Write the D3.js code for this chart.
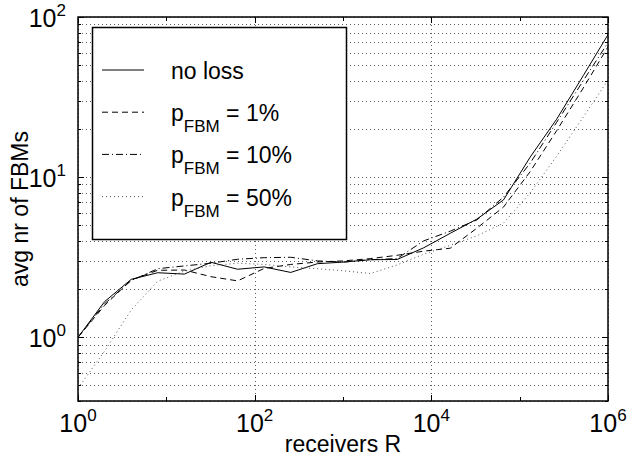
<!DOCTYPE html>
<html>
<head>
<meta charset="utf-8">
<script src="https://cdn.jsdelivr.net/npm/d3@7"></script>
<style>
  body { margin: 0; background: #fff; }
  text { font-family: "Liberation Sans", Arial, sans-serif; fill: #000; }
</style>
</head>
<body>
<svg id="chart" width="628" height="456"></svg>
<script>
// receivers R (powers of two)
const receivers = [1, 2, 4, 8, 16, 32, 64, 128, 256, 512, 1024, 2048, 4096, 8192,
  16384, 32768, 65536, 131072, 262144, 524288, 1048576];

// avg nr of FBMs
const noLoss = [1.0, 1.67, 2.3, 2.53, 2.48, 2.94, 2.66, 2.75, 2.54, 2.88, 2.95,
  3.05, 3.06, 3.62, 4.46, 5.47, 7.2, 13.3, 23, 43, 81];
const loss1 = [1.0, 1.58, 2.28, 2.62, 2.63, 2.39, 2.25, 2.69, 2.85, 2.95, 3.0,
  3.1, 3.25, 3.45, 3.6, 4.8, 6.5, 10.8, 19.5, 36, 68];
const loss10 = [1.0, 1.62, 2.26, 2.68, 2.79, 2.9, 3.07, 3.14, 3.16, 3.0, 2.95,
  3.05, 3.1, 4.0, 4.6, 5.4, 7.5, 12.2, 22, 40, 72];
const loss50 = [0.48, 0.82, 1.48, 2.24, 2.59, 2.8, 2.9, 2.85, 2.75, 2.68, 2.6,
  2.5, 2.83, 3.3, 3.75, 4.3, 5.16, 7.96, 13.5, 23.7, 42];

const legendLabels = ["no loss", "1%", "10%", "50%"];
const xMajor = [1, 1e2, 1e4, 1e6];
const xMinor = [10, 1e3, 1e5];
const yMajor = [1, 10, 100];
const yMinor = [0.4, 0.5, 0.6, 0.7, 0.8, 0.9, 2, 3, 4, 5, 6, 7, 8, 9,
  20, 30, 40, 50, 60, 70, 80, 90];

const width = 628, height = 456;
const margin = { top: 17, right: 20, bottom: 55, left: 78 };
const iw = width - margin.left - margin.right;
const ih = height - margin.top - margin.bottom;

const svg = d3.select("#chart");
const g = svg.append("g").attr("transform", `translate(${margin.left},${margin.top})`);

const x = d3.scaleLog().domain([1, 1e6]).range([0, iw]);
const y = d3.scaleLog().domain([0.4, 100]).range([ih, 0]);

g.append("clipPath").attr("id", "clip")
  .append("rect").attr("width", iw).attr("height", ih);

// dotted grid
const grid = g.append("g")
  .attr("stroke", "#333")
  .attr("stroke-opacity", 0.8)
  .attr("stroke-width", 1)
  .attr("stroke-dasharray", "1,3");
grid.selectAll("line.h").data(yMajor.concat(yMinor)).join("line")
  .attr("class", "h")
  .attr("x1", 0).attr("x2", iw)
  .attr("y1", (d) => Math.round(y(d)) + 0.5)
  .attr("y2", (d) => Math.round(y(d)) + 0.5);
grid.selectAll("line.v").data(xMajor).join("line")
  .attr("class", "v")
  .attr("y1", 0).attr("y2", ih)
  .attr("x1", (d) => Math.round(x(d)) + 0.5)
  .attr("x2", (d) => Math.round(x(d)) + 0.5);

// inward ticks on all four sides
const ticks = g.append("g").attr("stroke", "#000").attr("stroke-width", 1);
const yTicks = yMajor.map((v) => ({ v, len: 6 })).concat(yMinor.map((v) => ({ v, len: 3 })));
ticks.selectAll("line.yl").data(yTicks).join("line")
  .attr("x1", 0).attr("x2", (d) => d.len)
  .attr("y1", (d) => Math.round(y(d.v)) + 0.5).attr("y2", (d) => Math.round(y(d.v)) + 0.5);
ticks.selectAll("line.yr").data(yTicks).join("line")
  .attr("x1", iw).attr("x2", (d) => iw - d.len)
  .attr("y1", (d) => Math.round(y(d.v)) + 0.5).attr("y2", (d) => Math.round(y(d.v)) + 0.5);
const xTicks = xMajor.map((v) => ({ v, len: 6 })).concat(xMinor.map((v) => ({ v, len: 4 })));
ticks.selectAll("line.xb").data(xTicks).join("line")
  .attr("y1", ih).attr("y2", (d) => ih - d.len)
  .attr("x1", (d) => Math.round(x(d.v)) + 0.5).attr("x2", (d) => Math.round(x(d.v)) + 0.5);
ticks.selectAll("line.xt").data(xTicks).join("line")
  .attr("y1", 0).attr("y2", (d) => d.len)
  .attr("x1", (d) => Math.round(x(d.v)) + 0.5).attr("x2", (d) => Math.round(x(d.v)) + 0.5);

// series
const styles = [
  { data: noLoss, dash: null, color: "#000" },
  { data: loss1, dash: "6,4", color: "#000" },
  { data: loss10, dash: "7,3,1,3", color: "#000" },
  { data: loss50, dash: "1,3", color: "#555" },
];
const line = d3.line()
  .x((d) => x(d[0]))
  .y((d) => y(d[1]));
const lines = g.append("g").attr("clip-path", "url(#clip)");
styles.forEach((s) => {
  lines.append("path")
    .datum(receivers.map((r, i) => [r, s.data[i]]))
    .attr("d", line)
    .attr("fill", "none")
    .attr("stroke", s.color)
    .attr("stroke-width", 1)
    .attr("stroke-dasharray", s.dash);
});

// frame
g.append("rect").attr("width", iw).attr("height", ih)
  .attr("fill", "none").attr("stroke", "#000").attr("stroke-width", 1.5);

// tick labels
const exp = (v) => Math.round(Math.log10(v));
const xl = g.append("g").selectAll("text").data(xMajor).join("text")
  .attr("x", (d) => x(d)).attr("y", ih + 31)
  .attr("text-anchor", "middle")
  .style("font-size", "25px");
xl.append("tspan").text("10");
xl.append("tspan").attr("dy", -11).style("font-size", "17px").text(exp);

const yl = g.append("g").selectAll("text").data(yMajor).join("text")
  .attr("x", -12).attr("y", (d) => y(d) + 10)
  .attr("text-anchor", "end")
  .style("font-size", "25px");
yl.append("tspan").text("10");
yl.append("tspan").attr("dy", -11).style("font-size", "17px").text(exp);

// axis titles
svg.append("text")
  .attr("x", margin.left + iw / 2).attr("y", 452)
  .attr("text-anchor", "middle").style("font-size", "23px")
  .text("receivers R");
svg.append("text")
  .attr("transform", `translate(28,${margin.top + ih / 2}) rotate(-90)`)
  .attr("text-anchor", "middle").style("font-size", "23px")
  .text("avg nr of FBMs");

// legend
const lg = svg.append("g");
lg.append("rect").attr("x", 92.5).attr("y", 27.5).attr("width", 254).attr("height", 212)
  .attr("fill", "#fff").attr("stroke", "#000").attr("stroke-width", 1.5);
styles.forEach((s, i) => {
  const ly = 70 + i * 42.2;
  lg.append("line")
    .attr("x1", 102).attr("x2", 144).attr("y1", ly).attr("y2", ly)
    .attr("stroke", s.color).attr("stroke-width", 1)
    .attr("stroke-dasharray", s.dash);
  const t = lg.append("text").attr("x", 171).attr("y", ly + 9).style("font-size", "23px");
  if (i === 0) {
    t.text(legendLabels[i]);
  } else {
    t.append("tspan").text("p");
    t.append("tspan").attr("dy", 11).style("font-size", "17px").text("FBM");
    t.append("tspan").attr("dy", -11).text(" = " + legendLabels[i]);
  }
});
</script>
</body>
</html>
